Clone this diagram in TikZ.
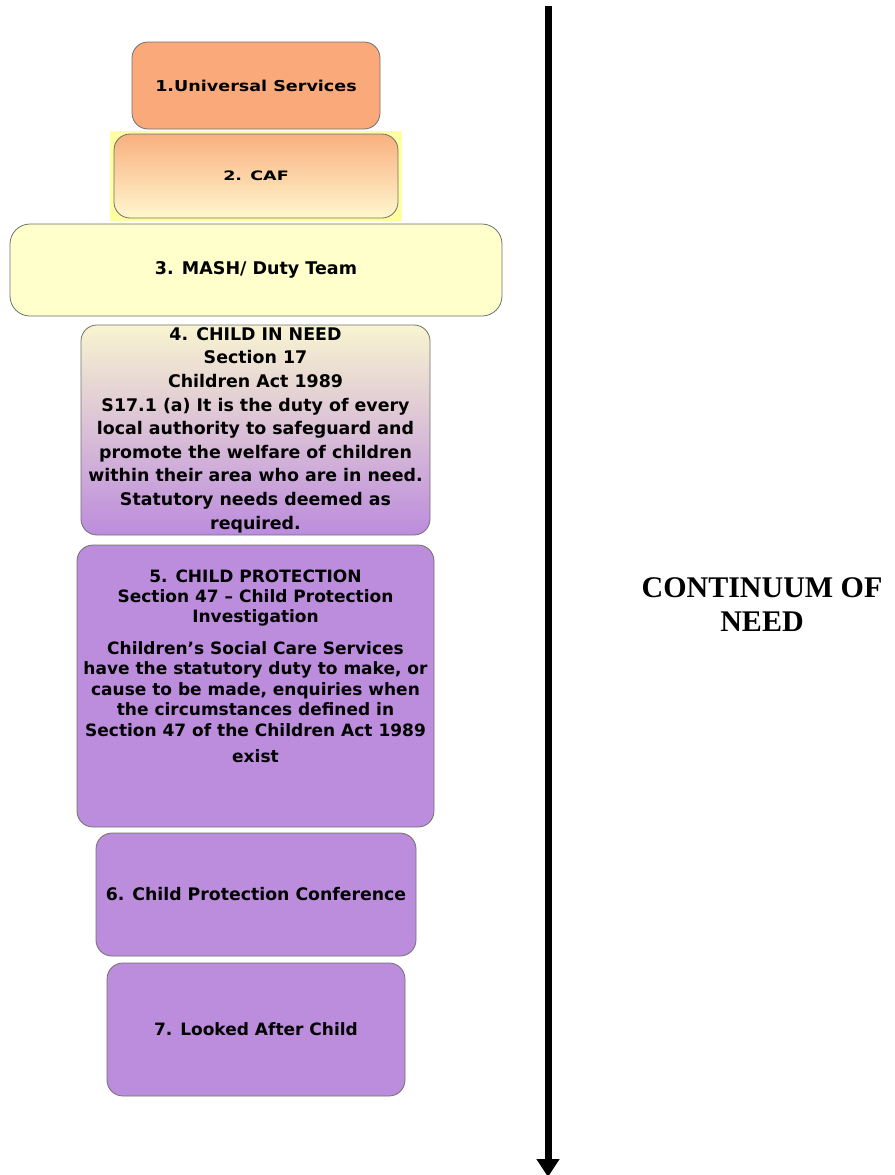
\documentclass[tikz,border=0pt]{standalone}
\usepackage{fontspec}
\setmainfont{DejaVu Sans}
\newfontfamily\needfont{Liberation Serif}
\usetikzlibrary{arrows.meta}

\definecolor{usorange}{RGB}{250,170,122}
\definecolor{caftop}{RGB}{249,176,126}
\definecolor{cafbot}{RGB}{255,247,207}
\definecolor{cafback}{RGB}{255,255,160}
\definecolor{mashyellow}{RGB}{255,255,204}
\definecolor{cintop}{RGB}{248,244,208}
\definecolor{cppurple}{RGB}{188,140,221}
\definecolor{boxgray}{RGB}{112,112,112}

\tikzset{
  stage/.style={draw=boxgray, line width=0.8pt, rounded corners=16pt,
    align=center, inner sep=0pt},
  txt/.style={align=center, inner sep=0pt},
}

\begin{document}
\begin{tikzpicture}[x=1pt,y=-1pt]
\useasboundingbox (0,0) rectangle (894,1175);
% stages
\fill[cafback] (110,131) rectangle (402,221);
\node[stage, fill=usorange, minimum width=248, minimum height=87,
  font=\bfseries\fontsize{15}{17}\selectfont\addfontfeature{FakeStretch=1.17}] at (256,85.5) (us) {1.Universal Services};
\node[stage, top color=caftop, bottom color=cafbot, minimum width=284, minimum height=84,
  font=\bfseries\fontsize{13}{15}\selectfont\addfontfeature{FakeStretch=1.35}] at (256,176) (caf) {2. CAF};
\node[stage, fill=mashyellow, rounded corners=20pt, minimum width=492, minimum height=92,
  font=\bfseries\fontsize{17.5}{20}\selectfont] at (256,270) (mash) {3. MASH/ Duty Team};
\node[stage, top color=cintop, bottom color=cppurple, minimum width=349, minimum height=210,
  font=\bfseries\fontsize{17.4}{23.6}\selectfont] at (255.5,430) (cin)
  {4. CHILD IN NEED\\Section 17\\Children Act 1989\\S17.1 (a) It is the duty of every\\
   local authority to safeguard and\\promote the welfare of children\\
   within their area who are in need.\\Statutory needs deemed as\\required.};
\node[stage, fill=cppurple, minimum width=357, minimum height=282] at (255.5,686) (cp) {};
\node[txt, font=\bfseries\fontsize{17}{20}\selectfont] at (255.5,598) (cptitle)
  {5. CHILD PROTECTION\\Section 47 -- Child Protection\\Investigation};
\node[txt, font=\bfseries\fontsize{17}{20.5}\selectfont] at (255.5,702) (cpbody)
  {Children's Social Care Services\\have the statutory duty to make, or\\
   cause to be made, enquiries when\\the circumstances defined in\\
   Section 47 of the Children Act 1989\\[6pt]exist};
\node[stage, fill=cppurple, minimum width=320, minimum height=123,
  font=\bfseries\fontsize{17.3}{20}\selectfont] at (256,894.5) (cpc) {6. Child Protection Conference};
\node[stage, fill=cppurple, minimum width=298, minimum height=133,
  font=\bfseries\fontsize{17}{20}\selectfont] at (256,1029.5) (lac) {7. Looked After Child};
% continuum
\coordinate (atop) at (548,6);
\coordinate (abot) at (548,1177);
\draw[line width=7pt, -{Triangle[width=22pt,length=18pt]}] (atop) -- (abot);
\node[txt, font=\needfont\bfseries\fontsize{30}{34}\selectfont] at (762,605) (need) {CONTINUUM OF\\NEED};
\end{tikzpicture}
\end{document}
